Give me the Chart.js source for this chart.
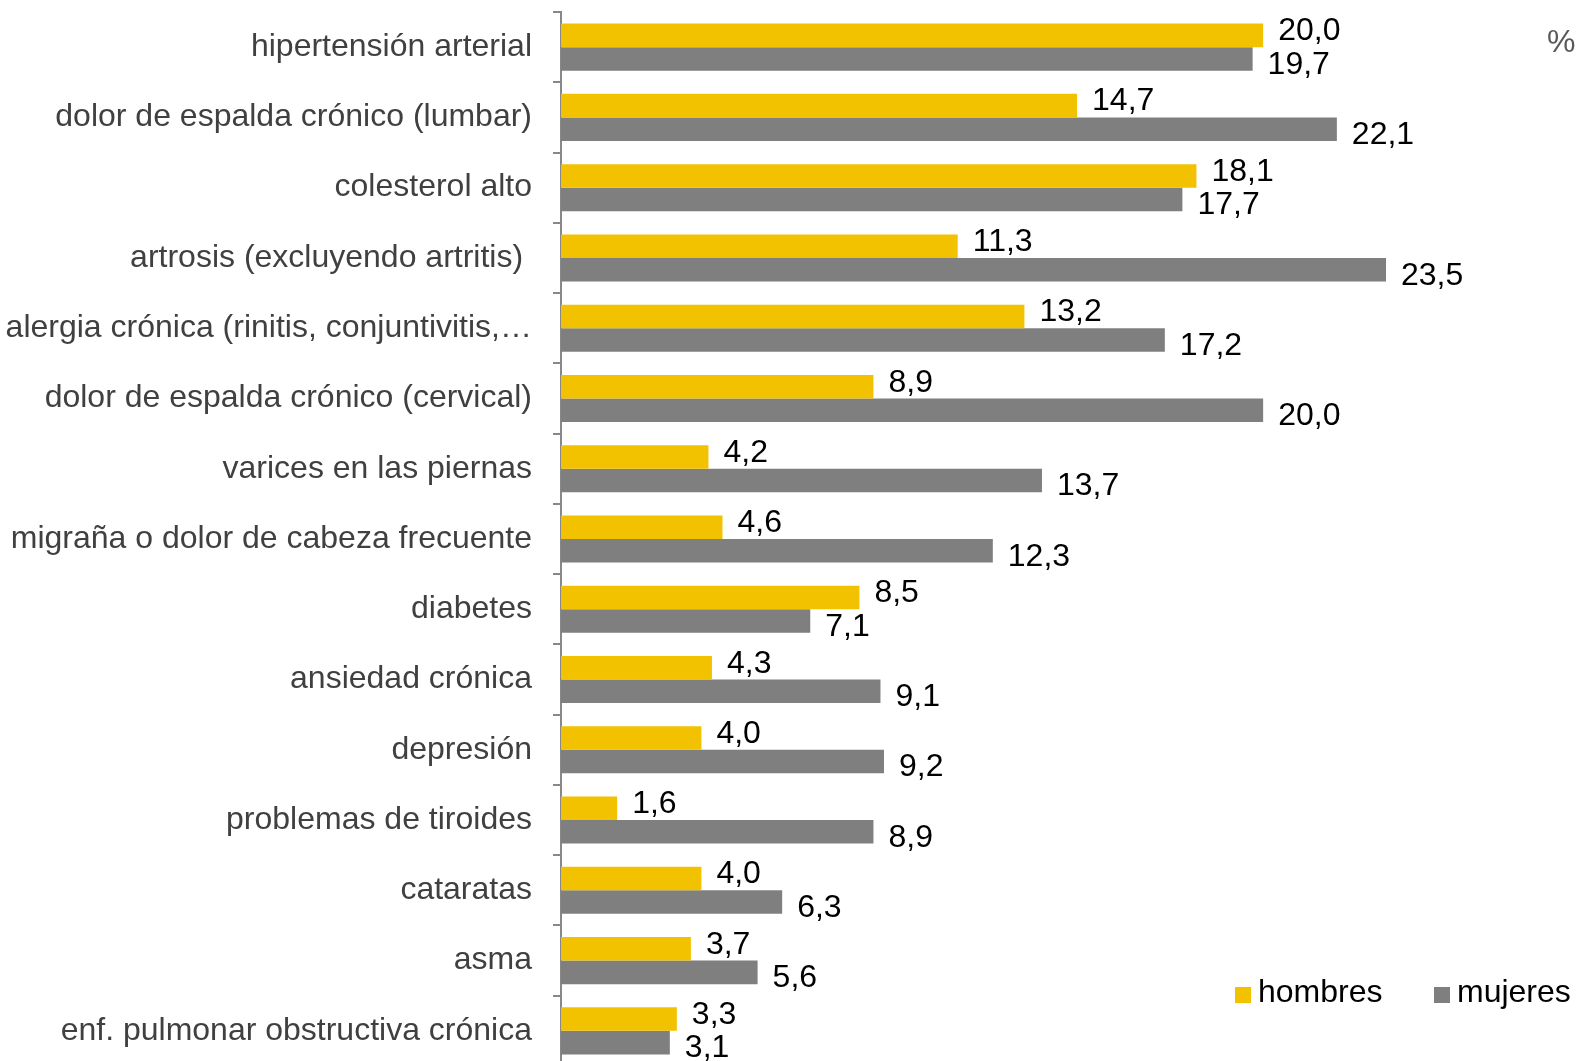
<!DOCTYPE html>
<html>
<head>
<meta charset="utf-8">
<script src="https://cdn.jsdelivr.net/npm/chart.js@4/dist/chart.umd.min.js"></script>
<style>
    html, body { margin: 0; padding: 0; background: #fff; overflow: hidden; }
    #wrap { width: 1578px; height: 1066px; position: relative; }
</style>
</head>
<body>
<div id="wrap"><canvas id="chart"></canvas></div>
<script>
const categories = [
    'hipertensión arterial',
    'dolor de espalda crónico (lumbar)',
    'colesterol alto',
    'artrosis (excluyendo artritis) ',
    'alergia crónica (rinitis, conjuntivitis,…',
    'dolor de espalda crónico (cervical)',
    'varices en las piernas',
    'migraña o dolor de cabeza frecuente',
    'diabetes',
    'ansiedad crónica',
    'depresión',
    'problemas de tiroides',
    'cataratas',
    'asma',
    'enf. pulmonar obstructiva crónica'
];
const hombres = [20.0, 14.7, 18.1, 11.3, 13.2, 8.9, 4.2, 4.6, 8.5, 4.3, 4.0, 1.6, 4.0, 3.7, 3.3];
const mujeres = [19.7, 22.1, 17.7, 23.5, 17.2, 20.0, 13.7, 12.3, 7.1, 9.1, 9.2, 8.9, 6.3, 5.6, 3.1];
const seriesNames = ['hombres', 'mujeres'];
const unitLabel = '%';

const FONT = "'Liberation Sans', Arial, sans-serif";
const YELLOW = '#F2C200';
const GREY = '#7F7F7F';

// value labels, legend and the % sign
const extras = {
    id: 'extras',
    afterDatasetsDraw(chart) {
        const ctx = chart.ctx;
        ctx.save();
        ctx.font = '32px ' + FONT;
        ctx.fillStyle = '#000';
        ctx.textAlign = 'left';
        ctx.textBaseline = 'middle';
        chart.data.datasets.forEach((ds, di) => {
            const meta = chart.getDatasetMeta(di);
            meta.data.forEach((bar, i) => {
                const txt = ds.data[i].toFixed(1).replace('.', ',');
                const dy = di === 0 ? -4 : 6;
                ctx.fillText(txt, bar.x + 15, bar.y + dy);
            });
        });

        // legend, bottom right
        const items = [
            { x: 1235, ds: chart.data.datasets[0] },
            { x: 1434, ds: chart.data.datasets[1] }
        ];
        items.forEach(it => {
            ctx.fillStyle = it.ds.backgroundColor;
            ctx.fillRect(it.x, 987, 16, 16);
            ctx.fillStyle = '#000';
            ctx.fillText(it.ds.label, it.x + 23, 993);
        });

        ctx.fillStyle = '#595959';
        ctx.fillText(unitLabel, 1547, 43);
        ctx.restore();
    }
};

new Chart(document.getElementById('chart'), {
    type: 'bar',
    data: {
        labels: categories,
        datasets: [
            { label: seriesNames[0], data: hombres, backgroundColor: YELLOW },
            { label: seriesNames[1], data: mujeres, backgroundColor: GREY }
        ]
    },
    options: {
        indexAxis: 'y',
        responsive: true,
        maintainAspectRatio: false,
        animation: false,
        layout: { padding: { top: 12, bottom: 0, left: 0, right: 34 } },
        datasets: {
            bar: { categoryPercentage: 0.67, barPercentage: 1.0 }
        },
        plugins: {
            legend: { display: false },
            tooltip: { enabled: false }
        },
        scales: {
            x: {
                display: false,
                min: 0,
                max: 28
            },
            y: {
                afterFit: (scale) => {
                    scale.width = 561;
                    scale.paddingTop = 0;
                    scale.paddingBottom = 0;
                },
                grid: {
                    offset: true,
                    drawOnChartArea: false,
                    drawTicks: true,
                    tickLength: 8,
                    color: '#888',
                    lineWidth: 2
                },
                border: { display: true, color: '#888', width: 2 },
                ticks: {
                    color: '#404040',
                    padding: 21,
                    autoSkip: false,
                    font: { size: 32, family: FONT }
                }
            }
        }
    },
    plugins: [extras]
});
</script>
</body>
</html>
